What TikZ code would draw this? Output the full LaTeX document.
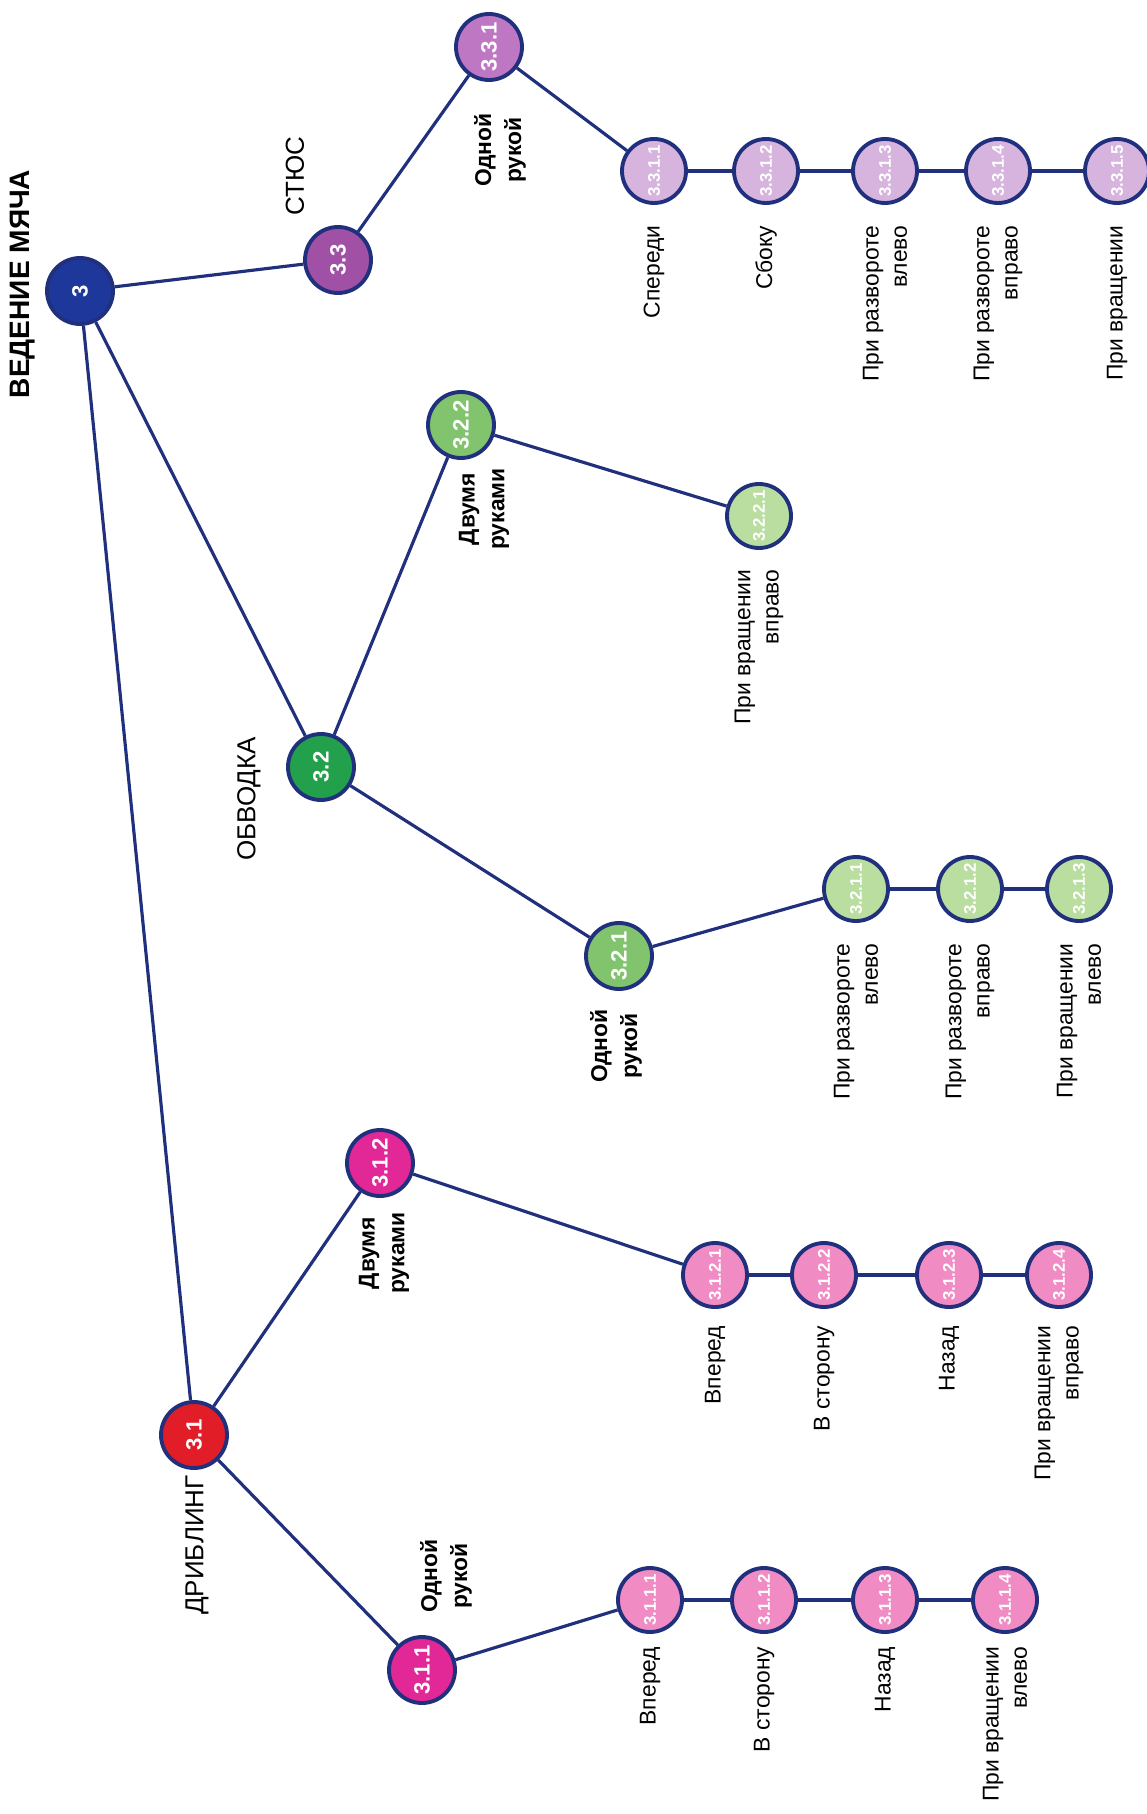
\documentclass[tikz,border=0pt]{standalone}
\usepackage{fontspec}
\setmainfont{Liberation Sans}
\definecolor{lnblue}{RGB}{32,48,125}
\definecolor{rootc}{RGB}{30,55,155}
\definecolor{stc}{RGB}{160,80,165}
\definecolor{stc2}{RGB}{190,120,195}
\definecolor{stc3}{RGB}{215,180,222}
\definecolor{obc}{RGB}{35,160,75}
\definecolor{obc2}{RGB}{130,195,110}
\definecolor{obc3}{RGB}{185,222,160}
\definecolor{drc}{RGB}{225,30,40}
\definecolor{drc2}{RGB}{225,40,150}
\definecolor{drc3}{RGB}{240,140,195}

\begin{document}
\begin{tikzpicture}[
  lnk/.style={draw=lnblue,line width=0.9pt},
  nd/.style={circle,draw=lnblue,line width=1.1pt,minimum size=0.66cm,inner sep=0pt,text=white,rotate=90,font=\fontsize{6.3}{6.3}\selectfont\bfseries},
  lf/.style={nd,minimum size=0.64cm,font=\fontsize{4.8}{4.8}\selectfont\bfseries},
  cat/.style={rotate=90,inner sep=0pt,font=\fontsize{7.4}{9}\selectfont},
  sub/.style={rotate=90,inner sep=0pt,align=center,font=\fontsize{6.5}{8.5}\selectfont\bfseries},
  txt/.style={rotate=90,inner sep=0pt,anchor=east,align=right,font=\fontsize{6.5}{8}\selectfont},
]
  \useasboundingbox (0,0) rectangle (11.47,-18.14);

  \node[nd,fill=rootc] (n3) at (0.80,-2.91) {3};
  \node[cat,font=\fontsize{8}{9}\selectfont\bfseries] (t3) at (0.23,-2.84) {ВЕДЕНИЕ МЯЧА};

  % СТЮС
  \node[nd,fill=stc]  (n33)  at (3.38,-2.60) {3.3};
  \node[nd,fill=stc2] (n331) at (4.89,-0.47) {3.3.1};
  \node[cat] (t33)  at (2.95,-1.76) {СТЮС};
  \node[sub] (t331) at (5.00,-1.50) {Одной\\рукой};
  \foreach \i/\x/\t in {1/6.54/Спереди,2/7.66/Сбоку,3/8.85/{При развороте\\влево},
                        4/9.98/{При развороте\\вправо},5/11.17/При вращении}{
    \node[lf,fill=stc3] (n331\i) at (\x,-1.71) {3.3.1.\i};
    \node[txt] (l331\i) at ([yshift=-0.54cm]n331\i.center) {\t};
  }

  % ОБВОДКА
  \node[nd,fill=obc]  (n32)  at (3.21,-7.67) {3.2};
  \node[nd,fill=obc2] (n322) at (4.61,-4.25) {3.2.2};
  \node[nd,fill=obc2] (n321) at (6.19,-9.56) {3.2.1};
  \node[lf,fill=obc3] (n3221) at (7.59,-5.16) {3.2.2.1};
  \node[cat] (t32)  at (2.49,-7.99) {ОБВОДКА};
  \node[sub] (t322) at (4.84,-5.09) {Двумя\\руками};
  \node[sub] (t321) at (6.16,-10.46) {Одной\\рукой};
  \node[txt] (l3221) at ([yshift=-0.53cm]n3221.center) {При вращении\\вправо};
  \foreach \i/\x/\t in {1/8.56/{При развороте\\влево},2/9.70/{При развороте\\вправо},
                        3/10.79/{При вращении\\влево}}{
    \node[lf,fill=obc3] (n321\i) at (\x,-8.89) {3.2.1.\i};
    \node[txt] (l321\i) at ([yshift=-0.54cm]n321\i.center) {\t};
  }

  % ДРИБЛИНГ
  \node[nd,fill=drc]  (n31)  at (1.94,-14.35) {3.1};
  \node[nd,fill=drc2] (n312) at (3.80,-11.63) {3.1.2};
  \node[nd,fill=drc2] (n311) at (4.22,-16.70) {3.1.1};
  \node[cat] (t31)  at (1.97,-15.45) {ДРИБЛИНГ};
  \node[sub] (t312) at (3.84,-12.53) {Двумя\\руками};
  \node[sub] (t311) at (4.46,-15.76) {Одной\\рукой};
  \foreach \i/\x/\t in {1/7.15/Вперед,2/8.24/В сторону,3/9.49/Назад,4/10.59/{При вращении\\вправо}}{
    \node[lf,fill=drc3] (n312\i) at (\x,-12.75) {3.1.2.\i};
    \node[txt] (l312\i) at ([yshift=-0.50cm]n312\i.center) {\t};
  }
  \foreach \i/\x/\t in {1/6.50/Вперед,2/7.64/В сторону,3/8.85/Назад,4/10.05/{При вращении\\влево}}{
    \node[lf,fill=drc3] (n311\i) at (\x,-16.00) {3.1.1.\i};
    \node[txt] (l311\i) at ([yshift=-0.46cm]n311\i.center) {\t};
  }

  \foreach \a/\b in {n3/n33,n3/n32,n3/n31,n33/n331,n331/n3311,
                     n32/n322,n322/n3221,n32/n321,n321/n3211,
                     n31/n312,n312/n3121,n31/n311,n311/n3111}
    \draw[lnk] (\a) -- (\b);
  \foreach \a/\b in {1/2,2/3,3/4,4/5}
    \draw[lnk] (n331\a) -- (n331\b);
  \foreach \a/\b in {1/2,2/3}
    \draw[lnk] (n321\a) -- (n321\b);
  \foreach \a/\b in {1/2,2/3,3/4}{
    \draw[lnk] (n312\a) -- (n312\b);
    \draw[lnk] (n311\a) -- (n311\b);
  }
\end{tikzpicture}
\end{document}
